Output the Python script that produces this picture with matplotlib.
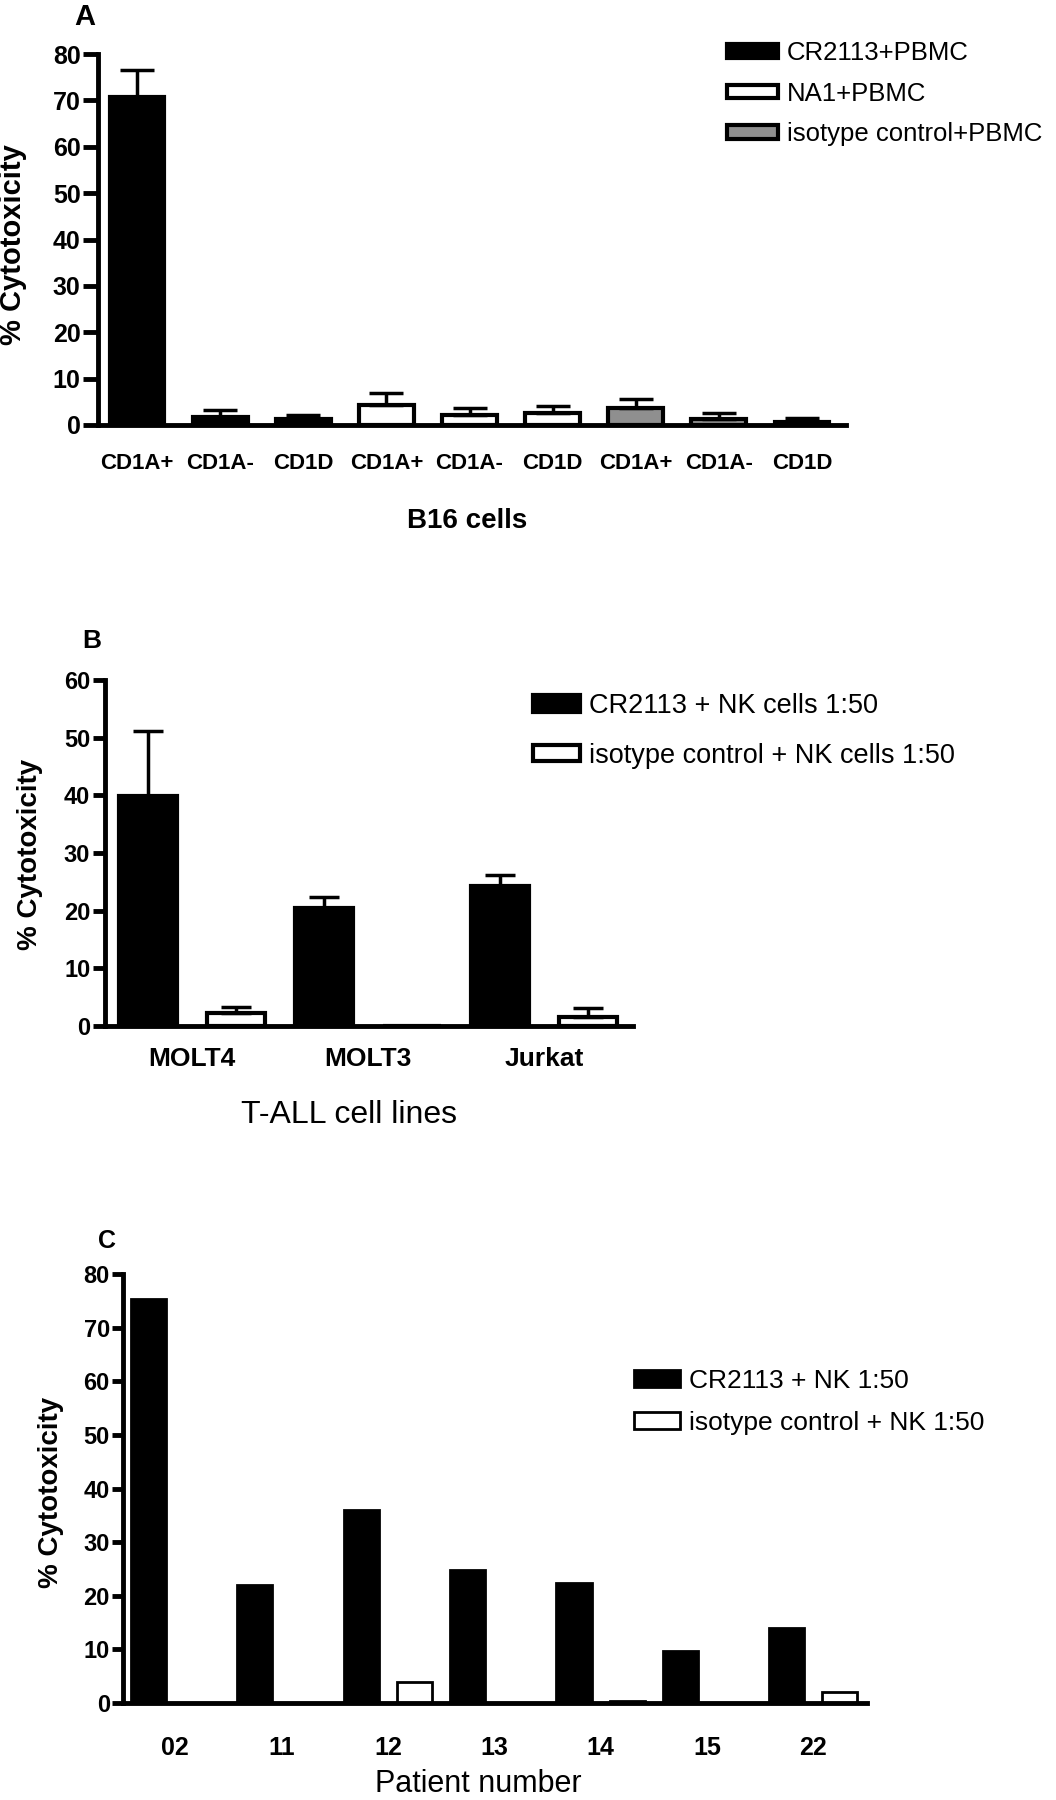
import matplotlib
matplotlib.use("Agg")
import matplotlib.pyplot as plt
from matplotlib.patches import Patch
import numpy as np

W, H = 1056, 1800
plt.rcParams['font.family'] = ['Liberation Sans', 'DejaVu Sans']

# ---- data -------------------------------------------------------------
# panel A: B16 cells
a_cells = ["CD1A+", "CD1A-", "CD1D", "CD1A+", "CD1A-", "CD1D", "CD1A+", "CD1A-", "CD1D"]
a_series = ["CR2113+PBMC", "NA1+PBMC", "isotype control+PBMC"]
a_values = [70.8, 1.8, 1.4, 4.4, 2.1, 2.5, 3.7, 1.4, 0.7]
a_errors = [5.8, 1.5, 0.8, 2.4, 1.6, 1.6, 1.8, 1.2, 0.9]

# panel B: T-ALL cell lines
b_lines = ["MOLT4", "MOLT3", "Jurkat"]
b_series = ["CR2113 + NK cells 1:50", "isotype control + NK cells 1:50"]
b_cr = [39.8, 20.5, 24.3]
b_cr_err = [11.3, 1.8, 1.8]
b_iso = [2.2, 0.0, 1.5]
b_iso_err = [1.1, 0.0, 1.7]

# panel C: patients
c_patients = ["02", "11", "12", "13", "14", "15", "22"]
c_series = ["CR2113 + NK 1:50", "isotype control + NK 1:50"]
c_cr = [75.3, 22.0, 36.0, 24.8, 22.4, 9.7, 14.0]
c_iso = [0.0, 0.0, 4.0, 0.0, 0.3, 0.0, 2.1]


def box(l, t, r, b):
    return [l / W, 1 - b / H, (r - l) / W, (b - t) / H]


def fx(x, y):
    return x / W, 1 - y / H


def style(ax, lab_size, tick_len, pad):
    for s in ['top', 'right']:
        ax.spines[s].set_visible(False)
    for s in ['left', 'bottom']:
        ax.spines[s].set_linewidth(3.5)
    ax.tick_params(axis='y', direction='out', length=tick_len, width=3.5,
                   labelsize=lab_size, pad=pad)
    for t in ax.get_yticklabels():
        t.set_fontweight('bold')


fig = plt.figure(figsize=(W / 100, H / 100), dpi=100)

# ---- A ----------------------------------------------------------------
axA = fig.add_axes(box(98, 54, 846, 425))
xa = np.arange(len(a_cells))
colors_a = ['black'] * 3 + ['white'] * 3 + ['#8f8f8f'] * 3
axA.bar(xa, a_values, width=0.66, color=colors_a, edgecolor='black', linewidth=3)
axA.errorbar(xa, a_values, yerr=[np.zeros(len(a_errors)), a_errors], fmt='none',
             ecolor='black', elinewidth=2.5, capsize=12, capthick=2.5)
axA.set_xlim(-0.47, 8.53)
axA.set_ylim(0, 80)
axA.set_yticks(range(0, 81, 10))
axA.set_xticks(xa)
axA.set_xticklabels(a_cells, fontsize=16, fontweight='bold')
axA.tick_params(axis='x', length=0, pad=20)
style(axA, 18, 10.5, 2)

handles_a = [Patch(facecolor=c, edgecolor='black', linewidth=3) for c in ['black', 'white', '#8f8f8f']]
fig.legend(handles_a, a_series, loc='upper left', bbox_to_anchor=fx(727, 41),
           frameon=False, fontsize=18.5, handlelength=1.98, handleheight=0.43,
           handletextpad=0.35, labelspacing=0.65, borderpad=0, borderaxespad=0)

fig.text(*fx(13, 245), "% Cytotoxicity", rotation=90, ha='center', va='center',
         fontsize=21, fontweight='bold')
fig.text(*fx(467, 521), "B16 cells", ha='center', va='center', fontsize=20, fontweight='bold')
fig.text(*fx(85, 17), "A", ha='center', va='center', fontsize=21, fontweight='bold')

# ---- B ----------------------------------------------------------------
axB = fig.add_axes(box(105, 680, 633, 1026))
xb = np.arange(len(b_lines)) * 2
axB.bar(xb, b_cr, width=0.66, color='black', edgecolor='black', linewidth=3)
axB.bar(xb + 1, b_iso, width=0.66, color='white', edgecolor='black', linewidth=3)
vals = np.array(b_cr + b_iso)
errs = np.array(b_cr_err + b_iso_err)
pos = np.concatenate([xb, xb + 1])
m = errs > 0
axB.errorbar(pos[m], vals[m], yerr=[np.zeros(m.sum()), errs[m]], fmt='none',
             ecolor='black', elinewidth=2.5, capsize=11, capthick=2.5)
axB.set_xlim(-0.49, 5.51)
axB.set_ylim(0, 60)
axB.set_yticks(range(0, 61, 10))
axB.set_xticks(xb + 0.5)
axB.set_xticklabels(b_lines, fontsize=19, fontweight='bold')
axB.tick_params(axis='x', length=0, pad=15)
style(axB, 17, 8.6, 2)

handles_b = [Patch(facecolor=c, edgecolor='black', linewidth=3) for c in ['black', 'white']]
fig.legend(handles_b, b_series, loc='upper left', bbox_to_anchor=fx(533, 693),
           frameon=False, fontsize=19.5, handlelength=1.73, handleheight=0.55,
           handletextpad=0.33, labelspacing=0.87, borderpad=0, borderaxespad=0)

fig.text(*fx(30, 854), "% Cytotoxicity", rotation=90, ha='center', va='center',
         fontsize=20, fontweight='bold')
fig.text(*fx(349, 1123), "T-ALL cell lines", ha='center', va='baseline', fontsize=23)
fig.text(*fx(92, 641), "B", ha='center', va='center', fontsize=19, fontweight='bold')

# ---- C ----------------------------------------------------------------
axC = fig.add_axes(box(123, 1274, 867, 1703))
xc = np.arange(len(c_patients)) * 2
axC.bar(xc, c_cr, width=0.66, color='black', edgecolor='black', linewidth=2)
axC.bar(xc + 1, c_iso, width=0.66, color='white', edgecolor='black', linewidth=2)
axC.set_xlim(-0.48, 13.51)
axC.set_ylim(0, 80)
axC.set_yticks(range(0, 81, 10))
axC.set_xticks(xc + 0.5)
axC.set_xticklabels(c_patients, fontsize=18, fontweight='bold')
axC.tick_params(axis='x', length=0, pad=24)
style(axC, 17, 8, 1.5)

handles_c = [Patch(facecolor=c, edgecolor='black', linewidth=2) for c in ['black', 'white']]
fig.legend(handles_c, c_series, loc='upper left', bbox_to_anchor=fx(634, 1369),
           frameon=False, fontsize=19, handlelength=1.74, handleheight=0.6,
           handletextpad=0.34, labelspacing=0.67, borderpad=0, borderaxespad=0)

fig.text(*fx(51, 1492), "% Cytotoxicity", rotation=90, ha='center', va='center',
         fontsize=20, fontweight='bold')
fig.text(*fx(478, 1799), "Patient number", ha='center', va='bottom', fontsize=22)
fig.text(*fx(107, 1241), "C", ha='center', va='center', fontsize=18, fontweight='bold')

fig.savefig("out.png", dpi=100)
